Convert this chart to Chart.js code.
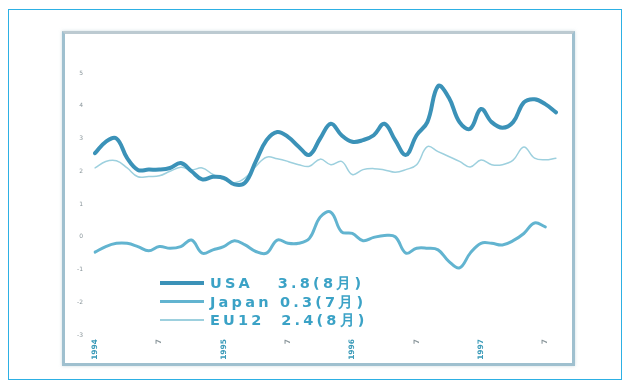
<!DOCTYPE html>
<html>
<head>
<meta charset="utf-8">
<script src="https://cdn.jsdelivr.net/npm/chart.js@4/dist/chart.umd.min.js"></script>
<style>
  body { margin: 0; background: #fff; width: 629px; height: 382px; overflow: hidden; position: relative; }
  .outer { position: absolute; left: 8px; top: 9px; width: 612px; height: 369px; border: 1.5px solid #2db0e4; }
  .frame { position: absolute; left: 62px; top: 31px; width: 507px; height: 329px;
           border: 3px solid #9fc0cf; border-top-color: #bccad1; box-shadow: 0 0 3px rgba(160,190,200,0.5); }
  .frame canvas { position: absolute; left: 0; top: 0; }
  .legend { position: absolute; left: 160px; top: 274px; font-family: "DejaVu Sans", sans-serif;
            font-weight: bold; font-size: 14.5px; color: #3ba2c6; letter-spacing: 3.2px; }
  .row { position: relative; height: 18.5px; line-height: 18px; white-space: pre; }
  .row .ln { position: absolute; left: 0; width: 44px; }
  .row span { position: absolute; left: 50px; }
</style>
</head>
<body>
<div class="outer"></div>
<div class="frame"><canvas id="myChart" width="507" height="329"></canvas></div>
<div class="legend" id="legend"></div>
<script>
var years = ['1994', '1995', '1996', '1997'];
var months = [];
for (var y = 0; y < years.length; y++) {
  for (var m = 1; m <= 12; m++) months.push(years[y] + '-' + m);
}
months = months.slice(0, 44); // Jan 1994 .. Aug 1997

var usa = [2.55, 2.9, 3.0, 2.4, 2.04, 2.05, 2.05, 2.1, 2.25, 2.0, 1.75, 1.83,
           1.8, 1.6, 1.65, 2.3, 2.95, 3.2, 3.05, 2.75, 2.5, 3.0, 3.45, 3.1,
           2.9, 2.95, 3.1, 3.45, 2.95, 2.5, 3.1, 3.5, 4.6, 4.25, 3.5, 3.3,
           3.9, 3.5, 3.33, 3.5, 4.1, 4.2, 4.05, 3.8];
var japan = [-0.47, -0.3, -0.2, -0.2, -0.3, -0.43, -0.3, -0.35, -0.3, -0.1, -0.5, -0.4,
             -0.3, -0.12, -0.25, -0.45, -0.5, -0.1, -0.2, -0.2, -0.05, 0.6, 0.75, 0.15,
             0.1, -0.12, -0.02, 0.04, 0.0, -0.5, -0.35, -0.35, -0.4, -0.75, -0.95, -0.5,
             -0.2, -0.2, -0.25, -0.12, 0.1, 0.42, 0.3, null];
var eu12 = [2.1, 2.3, 2.32, 2.1, 1.83, 1.84, 1.86, 2.0, 2.12, 2.04, 2.1, 1.9,
            1.75, 1.65, 1.8, 2.15, 2.43, 2.38, 2.3, 2.2, 2.15, 2.37, 2.2, 2.3,
            1.9, 2.05, 2.08, 2.04, 1.97, 2.05, 2.2, 2.75, 2.6, 2.45, 2.3, 2.13,
            2.34, 2.2, 2.2, 2.34, 2.74, 2.4, 2.35, 2.4];
var seriesNames = ['USA   3.8(8月)', 'Japan 0.3(7月)', 'EU12  2.4(8月)'];
var colors = ['#3b92b8', '#62b4d0', '#9dd0de'];
var widths = [4, 3, 1.5];

// legend
var leg = document.getElementById('legend');
seriesNames.forEach(function (n, i) {
  var row = document.createElement('div');
  row.className = 'row';
  row.innerHTML = '<div class="ln" style="top:' + (9 - widths[i] / 2) + 'px;height:' + widths[i] +
    'px;background:' + colors[i] + '"></div><span>' + n + '</span>';
  leg.appendChild(row);
});

var ctx = document.getElementById('myChart').getContext('2d');
var myChart = new Chart(ctx, {
  type: 'line',
  data: {
    labels: months,
    datasets: [usa, japan, eu12].map(function (d, i) {
      return {
        label: seriesNames[i],
        data: d,
        borderColor: colors[i],
        borderWidth: widths[i],
        tension: 0.4,
        pointRadius: 0,
        borderCapStyle: 'round',
        borderJoinStyle: 'round',
        spanGaps: false
      };
    })
  },
  options: {
    responsive: false,
    animation: false,
    layout: { padding: { top: 39, right: 16, left: 0, bottom: 0 } },
    plugins: { legend: { display: false }, tooltip: { enabled: false } },
    scales: {
      x: {
        grid: { display: false, drawTicks: false },
        border: { display: false },
        afterFit: function (s) { s.height = 28; },
        ticks: {
          autoSkip: false,
          minRotation: 90,
          maxRotation: 90,
          padding: 4,
          font: { size: 7.5, weight: 'bold', family: 'DejaVu Sans' },
          color: function (c) { return c.index % 12 === 0 ? '#3a9ab8' : '#8a969b'; },
          callback: function (v, i) {
            if (i % 12 === 0) return years[i / 12];
            if (i % 12 === 6) return '7';
            return '';
          }
        }
      },
      y: {
        min: -3,
        max: 5,
        grid: { display: false, drawTicks: false },
        border: { display: false },
        afterFit: function (s) { s.width = 30; },
        ticks: {
          stepSize: 1,
          padding: 12,
          font: { size: 6, family: 'DejaVu Sans' },
          color: '#8a969b'
        }
      }
    }
  }
});
</script>
</body>
</html>
